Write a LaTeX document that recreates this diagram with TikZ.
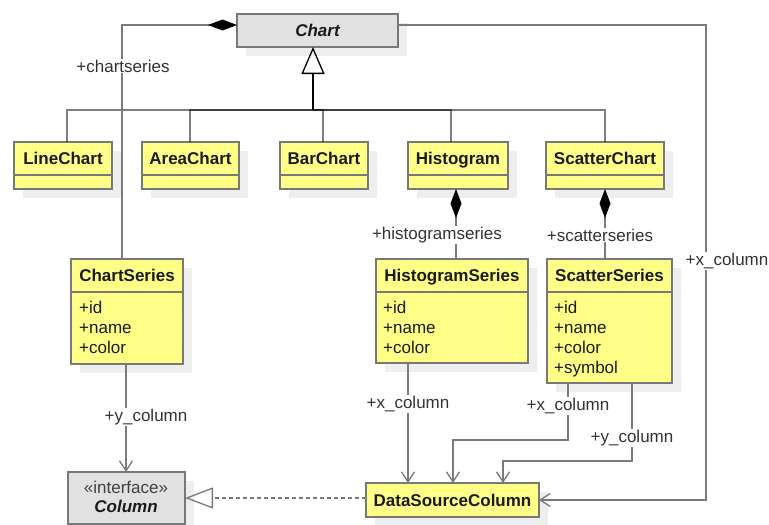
\documentclass[tikz,border=0pt]{standalone}
\usepackage{fontspec}
\setmainfont{Liberation Sans}
\usetikzlibrary{arrows.meta,shadows,fit,calc}

\definecolor{umlyellow}{HTML}{FFFF88}
\definecolor{umlgray}{HTML}{E1E1E1}
\definecolor{umlborder}{HTML}{787878}
\definecolor{umlline}{HTML}{7A7A7A}
\definecolor{umlshadow}{HTML}{EEEEEE}
\definecolor{umltext}{HTML}{1A1A1A}

\newcommand\umlfont{\fontsize{17}{20}\selectfont}

% a class box with a name compartment and an attribute compartment
% #1 node name, #2 left, #3 top, #4 right, #5 divider y, #6 bottom, #7 class name
\newcommand\umlclass[7]{%
  \node[classbox, fit={(#2,#3) (#4,#6)}] (#1) {};
  \draw[divider] (#1.west |- 0,#5) -- (#1.east |- 0,#5);
  \node[classname] (#1-name) at ($(#1.north)!0.5!(#1.north |- 0,#5)$) {#7};
}

\begin{document}
\begin{tikzpicture}[x=1pt,y=-1pt,
  every node/.style={font=\umlfont, text=umltext},
  classbox/.style={draw=umlborder, line width=1.5pt, fill=umlyellow,
    inner sep=0pt, outer sep=0pt,
    general shadow={fill=umlshadow, shadow xshift=9pt, shadow yshift=-9pt}},
  abstractbox/.style={classbox, fill=umlgray},
  divider/.style={draw=umlborder, line width=1.5pt},
  classname/.style={font=\umlfont\bfseries, inner sep=0pt,
    text height=12pt, text depth=0pt},
  attrs/.style={align=left, anchor=north west, inner sep=0pt},
  rolename/.style={fill=white, inner sep=1pt, text=black!80},
  edge/.style={draw=umlline, line width=1.3pt},
  genedge/.style={draw=black, draw opacity=0.5, line width=1.3pt},
  trunk/.style={draw=black, line width=1.5pt,
    -{Triangle[open, length=27pt, width=23pt, line width=1.3pt]}},
  composite/.style={edge, {Diamond[length=29pt, width=11pt, color=black, fill=black]}-},
  navigable/.style={edge, -{Straight Barb[length=10pt, width=13pt]}},
  realizes/.style={edge, dash pattern=on 4pt off 3pt,
    -{Triangle[open, length=28pt, width=21pt]}},
]
\useasboundingbox (0,0) rectangle (769,525);

% ---- classes ----
\node[abstractbox, fit={(237,14) (398,47)}] (chart) {};
\node[classname, font=\umlfont\bfseries\itshape] (chart-name) at (chart.center) {Chart};

\umlclass{linechart}{14}{142}{112}{175}{189}{LineChart}
\umlclass{areachart}{142}{142}{239}{175}{189}{AreaChart}
\umlclass{barchart}{280}{142}{368}{175}{189}{BarChart}
\umlclass{histogram}{408}{142}{508}{175}{189}{Histogram}
\umlclass{scatterchart}{546}{142}{664}{175}{189}{ScatterChart}

\umlclass{chartseries}{71}{259}{183}{292}{364}{ChartSeries}
\node[attrs] (chartseries-attrs) at (79,301) {+id\\+name\\+color};

\umlclass{histseries}{376}{259}{528}{292}{363}{HistogramSeries}
\node[attrs] (histseries-attrs) at (383,301) {+id\\+name\\+color};

\umlclass{scatterseries}{547}{259}{672}{292}{383}{ScatterSeries}
\node[attrs] (scatterseries-attrs) at (554,301) {+id\\+name\\+color\\+symbol};

\node[classbox, fit={(366,483) (539,517)}] (dsc) {};
\node[classname] (dsc-name) at (dsc.center) {DataSourceColumn};

\node[abstractbox, fit={(68,472) (185,524)}] (column) {};
\node[inner sep=0pt, text=black!75] (column-stereo) at (126,487) {«interface»};
\node[classname, font=\umlfont\bfseries\itshape] (column-name) at (126,506) {Column};

% ---- generalization ----
\coordinate (hub) at (313,110);
\draw[genedge] (linechart.north -| 67,0) |- (hub);
\draw[genedge] (areachart.north -| 190,0) |- (hub);
\draw[genedge] (barchart.north -| 323,0) |- (hub);
\draw[genedge] (histogram.north -| 451,0) |- (hub);
\draw[genedge] (scatterchart.north -| 605,0) |- (hub);
\draw[trunk] (hub) -- (chart.south -| hub);

% ---- compositions ----
\coordinate (cs-bend) at (122,25);
\draw[composite] (chart.west |- cs-bend) -- (cs-bend) -- (chartseries.north -| cs-bend);
\draw[composite] (histogram.south -| 456,0) -- (histseries.north -| 456,0);
\draw[composite] (scatterchart.south -| 605,0) -- (scatterseries.north -| 605,0);

% ---- column associations ----
\draw[navigable] (chartseries.south -| 126,0) -- (column.north -| 126,0);
\draw[navigable] (histseries.south -| 408,0) -- (dsc.north -| 408,0);
\coordinate (sx-bend) at (453,440);
\draw[navigable] (scatterseries.south -| 568,0) |- (sx-bend) -- (dsc.north -| sx-bend);
\coordinate (sy-bend) at (503,461);
\draw[navigable] (scatterseries.south -| 632,0) |- (sy-bend) -- (dsc.north -| sy-bend);
\coordinate (cd-bend) at (706,25);
\draw[navigable] (chart.east |- cd-bend) -- (cd-bend) |- (dsc.east);

% ---- realization ----
\draw[realizes] (dsc.west |- column.east) -- (column.east);

% ---- role names ----
\node[rolename] (r-chartseries) at (123,66) {+chartseries};
\node[rolename] (r-histseries) at (437,235) {+histogramseries};
\node[rolename] (r-scatterseries) at (600,235) {+scatterseries};
\node[rolename] (r-cs-y) at (146,417) {+y\_column};
\node[rolename] (r-hs-x) at (408,404) {+x\_column};
\node[rolename] (r-ss-x) at (568,406) {+x\_column};
\node[rolename] (r-ss-y) at (632,438) {+y\_column};
\node[rolename] (r-chart-x) at (727,261) {+x\_column};
\end{tikzpicture}
\end{document}
